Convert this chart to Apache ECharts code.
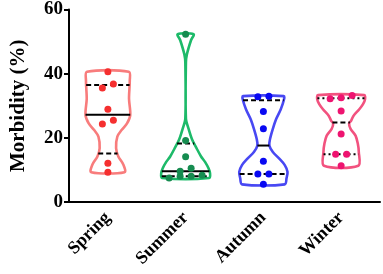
<!DOCTYPE html>
<html>
<head>
<meta charset="utf-8">
<script src="https://cdn.jsdelivr.net/npm/echarts@6/dist/echarts.min.js"></script>
<style>
html, body { margin: 0; padding: 0; background: #fff; }
#chart { width: 383px; height: 274px; }
</style>
</head>
<body>
<div id="chart"></div>
<script>
// categories
var seasons = ['Spring', 'Summer', 'Autumn', 'Winter'];

// individual points (%)
var springVals = [40.6, 36.8, 35.5, 28.9, 25.5, 24.3, 12.1, 9.3];
var summerVals = [52.3, 19.2, 14.1, 10.5, 9.6, 8.3, 8.0, 8.0, 7.5];
var autumnVals = [33.0, 32.8, 28.2, 22.8, 12.7, 8.7, 8.7, 5.5];
var winterVals = [33.2, 32.5, 32.2, 28.4, 21.2, 14.9, 14.9, 11.3];

// quartiles
var q1 = [15.1, 8.0, 8.7, 14.9];
var medians = [27.2, 9.6, 17.6, 24.8];
var q3 = [36.5, 18.2, 31.7, 32.3];

// violin density (value, relative density), top to bottom
var springShape = [[40.6, .84], [37.8, .88], [32.2, .85], [27.1, .9], [24.5, .77], [22.5, .56], [20.4, .38], [16.8, .33], [14.2, .42], [11.7, .62], [9.3, .67]];
var summerShape = [[52.3, .32], [50.5, .22], [46, .05], [43.5, .012], [26, .012], [22.8, .12], [19.5, .26], [16.6, .45], [14.2, .62], [12.5, .78], [10.5, .92], [9.0, .98], [7.5, .95]];
var autumnShape = [[33.0, .82], [32.0, .83], [28.9, .70], [25.8, .51], [22.8, .38], [19.7, .27], [17.6, .24], [15.6, .38], [13.5, .64], [11.5, .86], [9.4, .97], [7.4, .93], [5.5, .86]];
var winterShape = [[33.3, .93], [32.0, .96], [30.5, .88], [28.9, .73], [26.9, .5], [25.3, .4], [24.5, .32], [22.8, .38], [20.7, .58], [18.2, .67], [15.6, .71], [11.3, .69]];

var allVals = [springVals, summerVals, autumnVals, winterVals];
var shapes = [springShape, summerShape, autumnShape, winterShape];

var lineColors = ['#F87C7C', '#1DBA69', '#4848F3', '#F2527F'];
var dotColors = ['#F52F2F', '#168C50', '#0808F2', '#EE1470'];
// [q1, median, q3] dash styles
var dashes = [
    [[5, 3], null, [5, 3]],
    [[5, 3], null, [5, 3]],
    [[5, 3], null, [5, 3]],
    [[2, 3], [5, 3], [2, 3]]
];

function widthAt(prof, v) {
    for (var j = 0; j < prof.length - 1; j++) {
        var a = prof[j], b = prof[j + 1];
        if (v <= a[0] && v >= b[0]) {
            var t = (a[0] - v) / (a[0] - b[0]);
            return a[1] + (b[1] - a[1]) * t;
        }
    }
    return v > prof[0][0] ? prof[0][1] : prof[prof.length - 1][1];
}

function violinItem(params, api) {
    var i = api.value(0);
    var prof = shapes[i];
    var cx = api.coord([i, 0])[0];
    var k = api.size([1, 0])[0] * 0.32;
    var left = [], right = [];
    prof.forEach(function (p) {
        var y = api.coord([i, p[0]])[1];
        left.push([cx - p[1] * k, y]);
        right.push([cx + p[1] * k, y]);
    });
    var pts = left.concat(right.reverse());
    var children = [{
        type: 'polygon',
        shape: { points: pts, smooth: 0.3 },
        style: { fill: 'none', stroke: lineColors[i], lineWidth: 2.6 }
    }];
    [q1[i], medians[i], q3[i]].forEach(function (v, n) {
        var w = widthAt(prof, v) * k;
        var y = api.coord([i, v])[1];
        children.push({
            type: 'line',
            shape: { x1: cx - w, y1: y, x2: cx + w, y2: y },
            style: { stroke: '#000', lineWidth: 2, lineDash: dashes[i][n] || null }
        });
    });
    return { type: 'group', children: children };
}

// spread close values side by side
var dotData = [];
allVals.forEach(function (vals, i) {
    var sorted = vals.slice().sort(function (a, b) { return a - b; });
    var rows = [];
    sorted.forEach(function (v) {
        var r = rows[rows.length - 1];
        if (r && v - r[0] < 1.6) r.push(v); else rows.push([v]);
    });
    rows.forEach(function (r) {
        r.forEach(function (v, n) {
            dotData.push({
                value: [i, v],
                symbolOffset: [(n - (r.length - 1) / 2) * 11, 0],
                itemStyle: { color: dotColors[i], opacity: 1 }
            });
        });
    });
});

var serif = 'Liberation Serif';
var chart = echarts.init(document.getElementById('chart'));
chart.setOption({
    animation: false,
    grid: { left: 57, right: 3, top: 7, bottom: 72 },
    xAxis: {
        type: 'category',
        data: seasons,
        axisLine: { lineStyle: { color: '#000', width: 2 } },
        axisTick: { alignWithLabel: true, length: 5, lineStyle: { color: '#000', width: 2 } },
        axisLabel: { rotate: 45, margin: 13, color: '#000', fontFamily: serif, fontWeight: 'bold', fontSize: 18 }
    },
    yAxis: {
        type: 'value',
        min: 0, max: 60, interval: 20,
        name: 'Morbidity (%)',
        nameLocation: 'middle',
        nameGap: 40,
        nameTextStyle: { color: '#000', fontFamily: serif, fontWeight: 'bold', fontSize: 21 },
        splitLine: { show: false },
        axisLine: { show: true, lineStyle: { color: '#000', width: 2 } },
        axisTick: { show: true, length: 5, lineStyle: { color: '#000', width: 2 } },
        axisLabel: { margin: 6, color: '#000', fontFamily: serif, fontWeight: 'bold', fontSize: 19 }
    },
    series: [{
        type: 'custom',
        renderItem: violinItem,
        data: [[0], [1], [2], [3]],
        z: 2
    }, {
        type: 'scatter',
        data: dotData,
        symbolSize: 7,
        z: 3
    }]
});
</script>
</body>
</html>
